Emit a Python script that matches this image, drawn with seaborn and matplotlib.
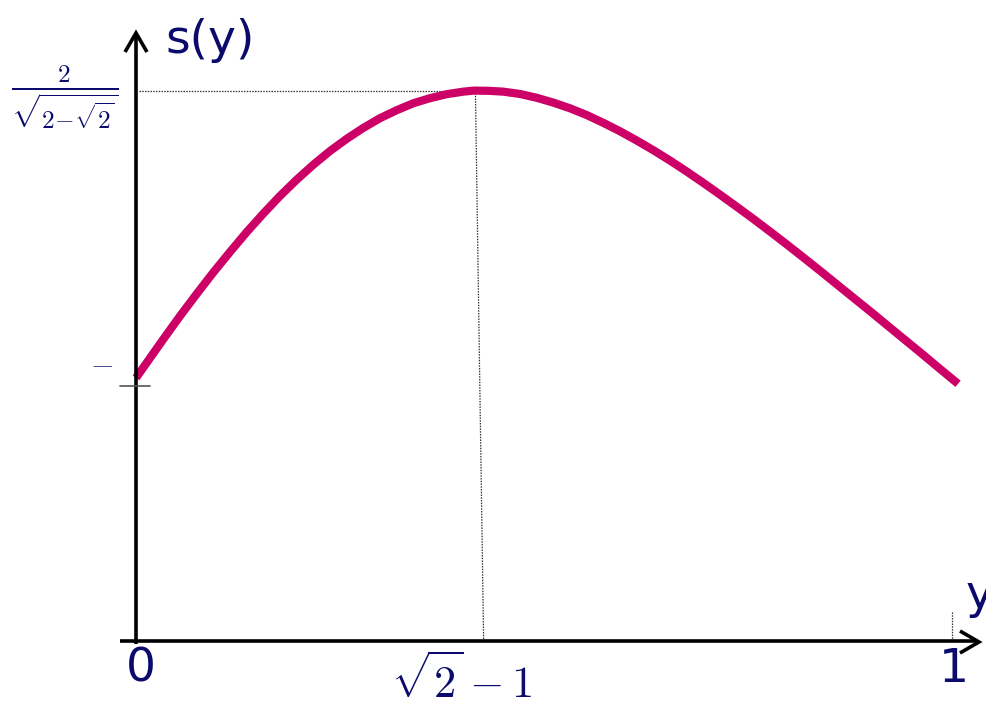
import matplotlib
matplotlib.use("Agg")
import matplotlib.pyplot as plt
import seaborn as sns
import pandas as pd

# s(y) sampled along the curve
y_vals = [0.0, 0.0335, 0.0540, 0.0744, 0.0948, 0.1152, 0.1356, 0.1560,
          0.1765, 0.1969, 0.2173, 0.2377, 0.2582, 0.2786, 0.2990, 0.3195,
          0.3399, 0.3603, 0.3808, 0.4011, 0.4142, 0.4320, 0.4501, 0.4706,
          0.4910, 0.5115, 0.5319, 0.5523, 0.5727, 0.5931, 0.6136, 0.6340,
          0.6544, 0.6748, 0.6952, 0.7157, 0.7361, 0.7565, 0.7770, 0.7974,
          0.8178, 0.8382, 0.8586, 0.8790, 0.8995, 0.9199, 0.9403, 0.9608,
          0.9812, 1.0074]
s_vals = [1.249, 1.433, 1.543, 1.648, 1.750, 1.847, 1.941, 2.029,
          2.113, 2.190, 2.261, 2.326, 2.384, 2.436, 2.482, 2.520,
          2.553, 2.577, 2.596, 2.608, 2.613, 2.612, 2.608, 2.597,
          2.579, 2.556, 2.529, 2.497, 2.460, 2.420, 2.376, 2.330,
          2.281, 2.229, 2.175, 2.119, 2.062, 2.004, 1.944, 1.883,
          1.821, 1.758, 1.694, 1.630, 1.566, 1.501, 1.436, 1.371,
          1.305, 1.221]

# marked values
s_max = 2.613          # 2 / sqrt(2 - sqrt(2))
y_peak_top = 0.416     # guide from the peak ...
y_peak_base = 0.426    # ... down to the axis

x_tick_labels = ["0", r"$\sqrt{2}-1$", "1"]
s_tick_label = r"$\frac{2}{\sqrt{2{-}\sqrt{2}}}$"

sns.set_theme(style="white")
plt.rcParams["mathtext.fontset"] = "cm"
plt.rcParams["font.family"] = ["DejaVu Sans"]

W, H = 986, 706
fig = plt.figure(figsize=(W / 100, H / 100), dpi=100)
ax = fig.add_axes([0, 0, 1, 1])

# pixel layout of the drawing area
X0, X1 = 136, 952      # y = 0 and y = 1
Y0, YM = 641, 90.6     # s = 0 and s = s_max
kx = X1 - X0
ky = (Y0 - YM) / s_max


def dx(px):
    return (px - X0) / kx


def dy(py):
    return (Y0 - py) / ky


ax.set_xlim(dx(0), dx(W))
ax.set_ylim(dy(H), dy(0))
ax.axis("off")

navy = "#0b0b6e"
curve_col = "#cc0066"

df = pd.DataFrame({"y": y_vals, "s": s_vals})
sns.lineplot(data=df, x="y", y="s", ax=ax, color=curve_col, linewidth=5.9,
             sort=False, estimator=None, solid_capstyle="butt",
             solid_joinstyle="round", zorder=3)

# dotted guides
guide = dict(color="#333333", linewidth=0.9, linestyle=(0, (1.2, 1.0)), zorder=2)
ax.plot([dx(139), y_peak_top], [s_max, s_max], **guide)
ax.plot([y_peak_top, y_peak_base], [dy(93), 0], **guide)
ax.plot([1, 1], [dy(612), 0], **guide)

# axes with open arrow heads
axis_kw = dict(color="black", linewidth=2.6, solid_capstyle="butt", zorder=4)
ax.plot([dx(120), dx(976)], [0, 0], **axis_kw)
ax.plot([0, 0], [dy(644), dy(36)], **axis_kw)
head_kw = dict(color="black", linewidth=2.6, solid_joinstyle="miter",
               solid_capstyle="butt", zorder=4)
ax.plot([dx(960), dx(979), dx(960)], [dy(631), dy(642), dy(653)], **head_kw)
ax.plot([dx(125), dx(136), dx(147)], [dy(52), dy(33), dy(52)], **head_kw)

# small tick at the starting value
ax.plot([dx(120), dx(150)], [dy(386), dy(386)], color="#555555",
        linewidth=1.2, zorder=4)

# labels
ax.text(dx(165), dy(53), "s(y)", fontsize=34, color=navy, ha="left",
        va="baseline")
ax.text(dx(966), dy(608), "y", fontsize=34, color=navy, ha="left",
        va="baseline")
ax.text(dx(141), dy(682), x_tick_labels[0], fontsize=34, color=navy,
        ha="center", va="baseline")
ax.text(dx(954), dy(682), x_tick_labels[2], fontsize=34, color=navy,
        ha="center", va="baseline")
ax.text(dx(462), dy(698), x_tick_labels[1], fontsize=32, color=navy,
        ha="center", va="baseline")
ax.text(dx(118), dy(97), s_tick_label, fontsize=26, color=navy,
        ha="right", va="center")
ax.text(dx(113), dy(364), r"$-$", fontsize=22, color="#2a2a80",
        ha="right", va="center")

fig.savefig("out.png", dpi=100)
